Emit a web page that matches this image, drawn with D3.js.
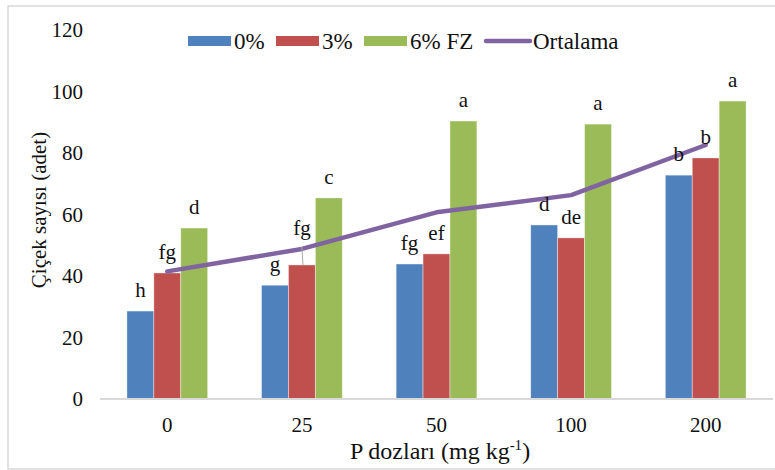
<!DOCTYPE html>
<html>
<head>
<meta charset="utf-8">
<script src="https://cdn.jsdelivr.net/npm/d3@7"></script>
<style>
  body { margin: 0; background: #fff; }
  svg, svg text { font-family: "Liberation Serif", "Times New Roman", Times, serif; }
</style>
</head>
<body>
<figure id="bar" style="margin:0"></figure>
<script>
const categories = ["0", "25", "50", "100", "200"];
const seriesNames = ["0%", "3%", "6% FZ"];
const lineName = "Ortalama";

const values0 = [28.6, 37.0, 43.9, 56.6, 72.8];
const values3 = [41.0, 43.6, 47.2, 52.4, 78.4];
const values6 = [55.6, 65.4, 90.4, 89.4, 96.9];
const meanValues = [41.5, 48.8, 60.7, 66.3, 82.6];

const letters0 = ["h", "g", "fg", "d", "b"];
const letters3 = ["fg", "fg", "ef", "de", "b"];
const letters6 = ["d", "c", "a", "a", "a"];

const yTicks = [0, 20, 40, 60, 80, 100, 120];

const colors = ["#4F81BD", "#C0504D", "#9BBB59"];
const lineColor = "#8064A2";

const width = 775, height = 470;

const svg = d3.select("figure#bar")
  .append("svg")
    .attr("width", width)
    .attr("height", height);

// chart border
svg.append("rect")
  .attr("x", 8).attr("y", 6)
  .attr("width", 780).attr("height", 463)
  .attr("fill", "none")
  .attr("stroke", "#D9D9D9")
  .attr("stroke-width", 1.5);

const x = d3.scaleBand()
  .domain(categories)
  .range([100, 773])
  .paddingInner(0.4)
  .paddingOuter(0.2);

const x1 = d3.scaleBand()
  .domain(seriesNames)
  .range([0, x.bandwidth()]);

const y = d3.scaleLinear()
  .domain([0, 120])
  .range([399, 30]);

const seriesValues = [values0, values3, values6];
const seriesLetters = [letters0, letters3, letters6];

// bars
seriesNames.forEach((name, s) => {
  svg.append("g").selectAll("rect")
    .data(categories)
    .enter()
    .append("rect")
      .attr("x", (c) => x(c) + x1(name))
      .attr("y", (c, i) => y(seriesValues[s][i]))
      .attr("width", x1.bandwidth())
      .attr("height", (c, i) => y(0) - y(seriesValues[s][i]))
      .attr("fill", colors[s])
      .attr("stroke", "#fff")
      .attr("stroke-opacity", 0.5)
      .attr("stroke-width", 0.8);
});

// x axis
const xAxis = svg.append("g")
  .attr("transform", "translate(0," + y(0) + ")")
  .call(d3.axisBottom(x).tickSize(0).tickPadding(18));
xAxis.attr("font-family", null);
xAxis.select(".domain").attr("stroke", "#D9D9D9").attr("stroke-width", 2)
  .attr("d", "M100,0H773");
xAxis.selectAll("text").attr("font-size", 21).attr("fill", "#111");

// y axis (labels only)
const yAxis = svg.append("g")
  .attr("transform", "translate(83,0)")
  .call(d3.axisLeft(y).tickValues(yTicks).tickSize(0).tickPadding(0));
yAxis.attr("font-family", null);
yAxis.select(".domain").remove();
yAxis.selectAll("text").attr("font-size", 21).attr("fill", "#111");

// mean line
const line = d3.line()
  .x((d, i) => x(categories[i]) + x.bandwidth() / 2)
  .y((d) => y(d));

svg.append("path")
  .datum(meanValues)
  .attr("d", line)
  .attr("fill", "none")
  .attr("stroke", lineColor)
  .attr("stroke-width", 4.5)
  .attr("stroke-linejoin", "round")
  .attr("stroke-linecap", "round");

// letters above bars; one label is lifted with a leader line
const lift = { "1-1": 16 };
seriesNames.forEach((name, s) => {
  categories.forEach((c, i) => {
    const cx = x(c) + x1(name) + x1.bandwidth() / 2;
    const top = y(seriesValues[s][i]);
    const up = lift[s + "-" + i] || 0;
    if (up) {
      svg.append("line")
        .attr("x1", cx + 1).attr("y1", top)
        .attr("x2", cx).attr("y2", top - up - 2)
        .attr("stroke", "#A6A6A6").attr("stroke-width", 1);
    }
    svg.append("text")
      .attr("x", cx)
      .attr("y", top - 14 - up)
      .attr("text-anchor", "middle")
      .attr("font-size", 21)
      .attr("fill", "#111")
      .text(seriesLetters[s][i]);
  });
});

// axis titles
svg.append("text")
  .attr("x", 440)
  .attr("y", 459)
  .attr("text-anchor", "middle")
  .attr("font-size", 24)
  .attr("fill", "#111")
  .html('P dozları (mg kg<tspan dy="-9" font-size="15">-1</tspan><tspan dy="9">)</tspan>');

svg.append("text")
  .attr("transform", "translate(46,210) rotate(-90)")
  .attr("text-anchor", "middle")
  .attr("font-size", 21)
  .attr("fill", "#111")
  .text("Çiçek sayısı (adet)");

// legend
const legend = svg.append("g");
const legendX = [188, 276, 364];
seriesNames.forEach((name, s) => {
  legend.append("rect")
    .attr("x", legendX[s]).attr("y", 36)
    .attr("width", 43).attr("height", 10)
    .attr("fill", colors[s]);
  legend.append("text")
    .attr("x", legendX[s] + 46).attr("y", 49)
    .attr("font-size", 23)
    .attr("fill", "#111")
    .text(name);
});
legend.append("line")
  .attr("x1", 486).attr("x2", 530)
  .attr("y1", 41).attr("y2", 41)
  .attr("stroke", lineColor).attr("stroke-width", 4.5)
  .attr("stroke-linecap", "round");
legend.append("text")
  .attr("x", 533).attr("y", 49)
  .attr("font-size", 23)
  .attr("fill", "#111")
  .text(lineName);
</script>
</body>
</html>
